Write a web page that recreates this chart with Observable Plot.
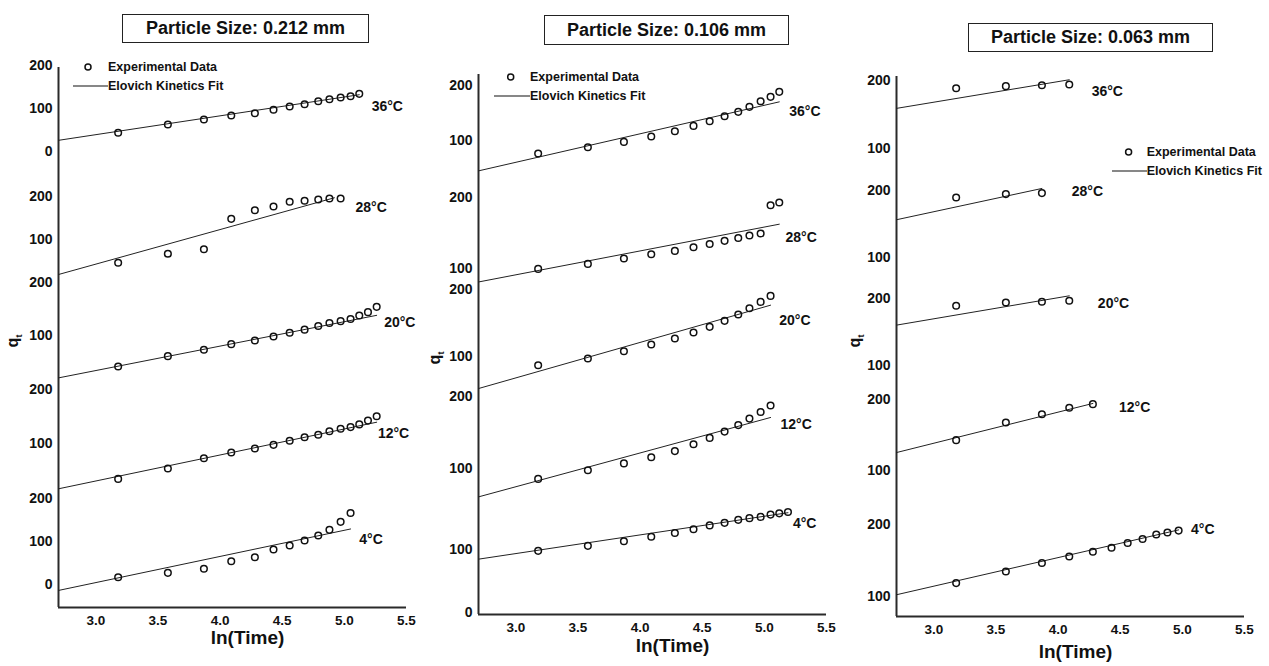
<!DOCTYPE html>
<html><head><meta charset="utf-8">
<script src="https://cdn.jsdelivr.net/npm/d3@7"></script>
<script src="https://cdn.jsdelivr.net/npm/@observablehq/plot@0.6"></script>
<style>
body{margin:0;background:#fff;font-family:"Liberation Sans",Arial,sans-serif;}
#wrap{position:relative;width:1269px;height:666px;overflow:hidden;background:#fff;}
.panel{position:absolute;top:0;}
.title{position:absolute;border:1.5px solid #222;font-weight:bold;font-size:18px;display:flex;align-items:center;justify-content:center;color:#111;box-sizing:border-box;background:#fff;}
.legend{position:absolute;font-size:12.5px;font-weight:bold;color:#111;}
.legend .row{display:flex;align-items:center;height:19px;}
.legend svg{display:block;}
.qt{position:absolute;width:30px;height:20px;font-weight:bold;font-size:16px;color:#111;text-align:center;line-height:20px;transform:rotate(-90deg);}
.qt sub{font-size:9px;}
</style></head><body><div id="wrap"></div><script>
// ---------- shared values ----------
const temps = ["36°C", "28°C", "20°C", "12°C", "4°C"];
const lnTime = [3.18, 3.58, 3.87, 4.09, 4.28, 4.43, 4.56, 4.68, 4.79, 4.88, 4.97, 5.05, 5.12, 5.19, 5.26];
const xTicks = [3.0, 3.5, 4.0, 4.5, 5.0, 5.5];
const sizes = ["0.212", "0.106", "0.063"];

// ---------- particle size 0.212 mm : q_t (experimental) ----------
const q212_36 = [43.5, 62.8, 74.4, 83.7, 89.0, 97.0, 104.7, 110.0, 117.0, 121.6, 125.6, 128.6, 134.0];
const q212_28 = [45.8, 66.7, 77.4, 148.0, 168.0, 176.7, 187.7, 190.0, 193.0, 195.3, 195.3];
const q212_20 = [41.5, 61.0, 73.0, 83.6, 90.6, 98.0, 105.0, 111.0, 118.0, 123.6, 127.0, 131.0, 137.7, 144.0, 154.0];
const q212_12 = [36.0, 55.0, 74.0, 84.4, 91.7, 98.5, 106.0, 112.5, 117.0, 123.5, 128.0, 131.0, 136.0, 143.0, 151.0];
const q212_4  = [17.5, 27.7, 37.0, 54.5, 63.7, 81.5, 90.8, 102.3, 113.9, 127.0, 145.5, 166.0];
const fitStart212 = [26, 18.6, 20, 17.8, -13];
const fitEnd212   = [132, 197, 138, 140, 129];
const fitEndX212  = [5.12, 4.92, 5.26, 5.26, 5.05];
const tempLabelAt212 = [[5.22, 104.6], [5.09, 174], [5.32, 125], [5.27, 120], [5.12, 104]];
const yTickLabels212 = [[200, 100, 0], [200, 100], [200, 100], [200, 100], [200, 100, 0]];
const base212 = [1013.3, 722.2, 486.7, 242.2, 50.4];
const gain212 = [0.956, 0.956, 1.178, 1.211, 0.962];

// ---------- particle size 0.106 mm ----------
const q106_36 = [77.0, 88.3, 97.8, 107.6, 117.0, 126.7, 135.0, 144.0, 152.0, 161.0, 171.0, 179.0, 188.0];
const q106_28 = [99.4, 106.5, 114.0, 120.0, 124.8, 130.0, 134.6, 138.9, 143.0, 146.5, 149.3, 189.0, 193.0];
const q106_20 = [86.5, 96.5, 107.5, 117.5, 126.5, 135.5, 144.0, 153.0, 162.5, 172.0, 181.4, 190.4];
const q106_12 = [85.6, 97.6, 107.0, 115.6, 124.0, 133.6, 142.3, 151.0, 160.0, 169.0, 178.0, 187.0];
const q106_4  = [97.8, 105.7, 113.0, 120.0, 126.0, 132.0, 138.0, 142.0, 146.7, 149.4, 151.4, 155.0, 157.0, 159.0];
const fitStart106 = [45.6, 81, 51.5, 60.7, 84.7];
const fitEnd106   = [170, 162.4, 176.5, 170.5, 158];
const fitEndX106  = [5.12, 5.12, 5.05, 5.05, 5.19];
const tempLabelAt106 = [[5.20, 153], [5.17, 143.7], [5.12, 154], [5.13, 161.3], [5.23, 141]];
const yTickLabels106 = [[200, 100], [200, 100], [200, 100], [200, 100], [100, 0]];
const base106 = [929.6, 611.1, 425.8, 163.8, 3.6];
const gain106 = [1.233, 1.578, 1.482, 1.607, 1.409];

// ---------- particle size 0.063 mm ----------
const q063_36 = [189.0, 192.0, 193.4, 194.5];
const q063_28 = [189.0, 194.0, 195.5];
const q063_20 = [189.0, 194.0, 195.0, 196.5];
const q063_12 = [142.8, 167.4, 179.0, 188.0, 193.0];
const q063_4  = [118.8, 134.8, 146.4, 155.4, 162.0, 167.4, 174.0, 179.4, 185.7, 188.4, 191.0];
const fitStart063 = [159, 156, 160, 125.5, 102.8];
const fitEnd063   = [201.5, 202.4, 204, 194, 192];
const fitEndX063  = [4.09, 3.87, 4.09, 4.28, 4.97];
const tempLabelAt063 = [[4.27, 184.5], [4.11, 198], [4.32, 192.5], [4.49, 188.3], [5.07, 192]];
const yTickLabels063 = [[200, 100], [200, 100], [200, 100], [200, 100], [200, 100]];
const base063 = [891.3, 648, 410.7, 164.4, -117.8];
const gain063 = [1.496, 1.498, 1.48, 1.593, 1.616];

// ---------- layout ----------
const panels = [
  {size: sizes[0], q: [q212_36, q212_28, q212_20, q212_12, q212_4], fs: fitStart212, fe: fitEnd212, fx: fitEndX212,
   lab: tempLabelAt212, yt: yTickLabels212, base: base212, gain: gain212,
   left: 0, width: 420, mL: 58, mR: 14, mT: 67, mB: 59, xlabDx: 15, xlabDy: 36,
   title: {left: 122, top: 14, w: 247, h: 29}, legend: {left: 73, top: 57.5, w: 35, cx: 15}, qt: {x: 13, y: 341}},
  {size: sizes[1], q: [q106_36, q106_28, q106_20, q106_12, q106_4], fs: fitStart106, fe: fitEnd106, fx: fitEndX106,
   lab: tempLabelAt106, yt: yTickLabels106, base: base106, gain: gain106,
   left: 420, width: 420, mL: 58, mR: 14, mT: 74, mB: 52, xlabDx: 20, xlabDy: 37,
   title: {left: 544, top: 15, w: 245, h: 30}, legend: {left: 494, top: 67.8, w: 36, cx: 16.7}, qt: {x: 435, y: 358}},
  {size: sizes[2], q: [q063_36, q063_28, q063_20, q063_12, q063_4], fs: fitStart063, fe: fitEnd063, fx: fitEndX063,
   lab: tempLabelAt063, yt: yTickLabels063, base: base063, gain: gain063,
   left: 840, width: 429, mL: 56, mR: 25, mT: 76, mB: 50, xlabDx: 5, xlabDy: 41,
   title: {left: 968, top: 23, w: 245, h: 29}, legend: {left: 1111.7, top: 142.2, w: 35, cx: 16.6}, qt: {x: 855, y: 341}}
];
const yMax = 1200;
const xDomain = [2.7, 5.5];
const wrap = document.getElementById("wrap");

for (const p of panels) {
  const stack = (i, q) => p.base[i] + p.gain[i] * q;
  const dots = [], lines = [], labels = [], yt = [];
  temps.forEach((t, i) => {
    p.q[i].forEach((q, j) => dots.push({temp: t, x: lnTime[j], s: stack(i, q)}));
    lines.push({temp: t, x: xDomain[0], s: stack(i, p.fs[i])});
    lines.push({temp: t, x: p.fx[i], s: stack(i, p.fe[i])});
    labels.push({temp: t, x: p.lab[i][0], s: stack(i, p.lab[i][1])});
    p.yt[i].forEach(v => yt.push({s: stack(i, v), label: String(v)}));
  });

  const chart = Plot.plot({
    width: p.width, height: 666,
    marginLeft: p.mL, marginRight: p.mR, marginTop: p.mT, marginBottom: p.mB,
    style: {fontFamily: "'Liberation Sans', Arial, sans-serif", fontWeight: "bold", color: "#111", background: "transparent", overflow: "visible"},
    x: {domain: xDomain},
    y: {domain: [0, yMax], axis: null},
    marks: [
      Plot.ruleX([xDomain[0]], {y1: 0, y2: yMax, stroke: "#2a2a2a", strokeWidth: 2}),
      Plot.ruleY([0], {x1: xDomain[0], x2: xDomain[1], stroke: "#2a2a2a", strokeWidth: 2}),
      Plot.axisX(xTicks, {tickFormat: d3.format(".1f"), tickSize: 0, tickPadding: 8, fontSize: 13.5, label: null}),
      Plot.text(yt, {y: "s", text: "label", frameAnchor: "left", textAnchor: "end", dx: -6, fontSize: 14, fill: "#111"}),
      Plot.line(lines, {x: "x", y: "s", z: "temp", stroke: "#222", strokeWidth: 1}),
      Plot.dot(dots, {x: "x", y: "s", r: 3.3, stroke: "#111", strokeWidth: 1.5, fill: "none"}),
      Plot.text(labels, {x: "x", y: "s", text: "temp", textAnchor: "start", fontSize: 14, fill: "#111"}),
      Plot.text(["ln(Time)"], {frameAnchor: "bottom", dx: p.xlabDx, dy: p.xlabDy, fontSize: 19, fill: "#111"})
    ]
  });
  const holder = document.createElement("div");
  holder.className = "panel";
  holder.style.left = p.left + "px";
  holder.appendChild(chart);
  wrap.appendChild(holder);

  const title = document.createElement("div");
  title.className = "title";
  Object.assign(title.style, {left: p.title.left + "px", top: p.title.top + "px", width: p.title.w + "px", height: p.title.h + "px"});
  title.textContent = "Particle Size: " + p.size + " mm";
  wrap.appendChild(title);

  const lg = document.createElement("div");
  lg.className = "legend";
  Object.assign(lg.style, {left: p.legend.left + "px", top: p.legend.top + "px"});
  lg.innerHTML =
    `<div class="row"><svg width="${p.legend.w}" height="14"><circle cx="${p.legend.cx}" cy="7" r="3" fill="none" stroke="#111" stroke-width="1.5"/></svg><span>Experimental Data</span></div>` +
    `<div class="row"><svg width="${p.legend.w}" height="14"><line x1="0" x2="${p.legend.w}" y1="7" y2="7" stroke="#111" stroke-width="1.2"/></svg><span>Elovich Kinetics Fit</span></div>`;
  wrap.appendChild(lg);

  const qt = document.createElement("div");
  qt.className = "qt";
  Object.assign(qt.style, {left: (p.qt.x - 15) + "px", top: (p.qt.y - 10) + "px"});
  qt.innerHTML = "q<sub>t</sub>";
  wrap.appendChild(qt);
}
</script></body></html>
